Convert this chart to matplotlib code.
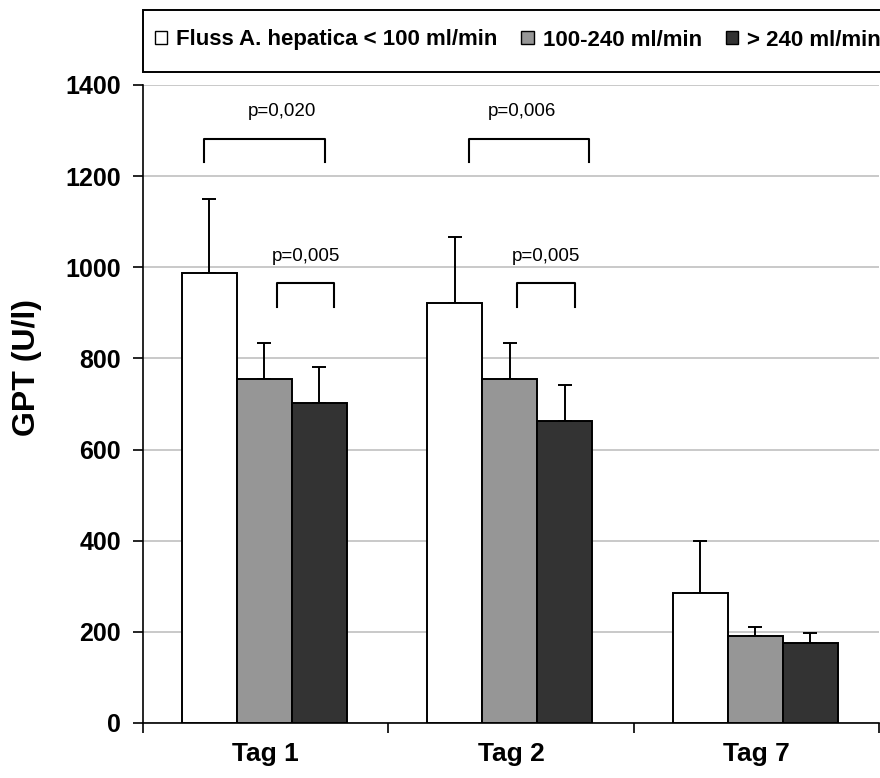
import matplotlib.pyplot as plt
from matplotlib.patches import Patch, Rectangle
import numpy as np

# GPT-Werte (U/l) nach Fluss der A. hepatica
tage = ['Tag 1', 'Tag 2', 'Tag 7']
gruppen = ['Fluss A. hepatica < 100 ml/min', '100-240 ml/min', '> 240 ml/min']
gpt_niedrig = [987, 922, 285]
sd_niedrig = [163, 144, 115]
gpt_mittel = [755, 755, 191]
sd_mittel = [79, 79, 20]
gpt_hoch = [702, 663, 175]
sd_hoch = [79, 79, 22]

# Signifikanzklammern: (x links, x rechts, y unten, y oben, y Text, x Text)
p_werte = ['p=0,020', 'p=0,005', 'p=0,006', 'p=0,005']
klammern = [(-0.252, 0.242, 1231, 1282, 1341, 0.067),
            (0.046, 0.278, 913, 966, 1023, 0.164),
            (0.829, 1.318, 1231, 1282, 1341, 1.045),
            (1.024, 1.261, 913, 966, 1023, 1.143)]

farben = ['white', '#969696', '#333333']
werte = [gpt_niedrig, gpt_mittel, gpt_hoch]
fehler = [sd_niedrig, sd_mittel, sd_hoch]

plt.rcParams['font.family'] = ['Liberation Sans', 'DejaVu Sans']

fig = plt.figure(figsize=(8.8, 7.78), dpi=100)
ax = fig.add_axes([143/880, 1-723/778, 736/880, 638/778])

x = np.arange(len(tage))
b = 0.224
lw = 1.4
for i in range(3):
    pos = x + (i-1)*b - 0.005
    ax.bar(pos, werte[i], b, color=farben[i], edgecolor='black', linewidth=lw, zorder=3)
    ax.errorbar(pos, werte[i], yerr=[np.zeros(3), fehler[i]], fmt='none',
                ecolor='black', elinewidth=lw, capsize=5, capthick=lw, zorder=2)

for (x0, x1, y0, y1, yt, xt), txt in zip(klammern, p_werte):
    ax.plot([x0, x0, x1, x1], [y0, y1, y1, y0], color='black', lw=1.5, clip_on=False)
    ax.text(xt, yt, txt, ha='center', va='center', fontsize=13.5)

ax.set_xlim(-0.5, 2.5)
ax.set_ylim(0, 1400)
ax.set_yticks(range(0, 1401, 200))
ax.yaxis.grid(True, color='#c0c0c0', linewidth=1.2, zorder=0)
ax.set_axisbelow(True)
for s in ['top', 'right']:
    ax.spines[s].set_visible(False)
ax.spines['left'].set_linewidth(1.2)
ax.spines['bottom'].set_linewidth(1.2)

ax.set_xticks([-0.5, 0.5, 1.5, 2.5])
ax.set_xticklabels([])
ax.set_xticks(x, minor=True)
ax.set_xticklabels(tage, minor=True, fontsize=19, fontweight='bold')
ax.tick_params(axis='x', which='major', direction='out', length=7, width=1.2)
ax.tick_params(axis='x', which='minor', length=0, pad=14)
ax.tick_params(axis='y', direction='out', length=7, width=1.2, labelsize=18, pad=9)
for t in ax.get_yticklabels():
    t.set_fontweight('bold')

ax.set_ylabel('GPT (U/l)', fontsize=23, fontweight='bold', va='center')
ax.yaxis.set_label_coords((27-143)/736, (723-367)/638)

# Legendenrahmen oben
fig.patches.append(Rectangle((143/880, 1-72/778), 760/880, 62/778, transform=fig.transFigure,
                             facecolor='white', edgecolor='black', linewidth=1.4, clip_on=False))
handles = [Patch(facecolor=c, edgecolor='black', linewidth=1.0) for c in farben]
fig.legend(handles, gruppen, loc='center left', bbox_to_anchor=(155/880, 1-40/778),
           ncol=3, frameon=False, prop={'weight': 'bold', 'size': 16},
           handlelength=0.55, handleheight=0.55, handletextpad=0.4,
           columnspacing=1.08, borderaxespad=0, borderpad=0)

plt.savefig('out.png', dpi=100)
